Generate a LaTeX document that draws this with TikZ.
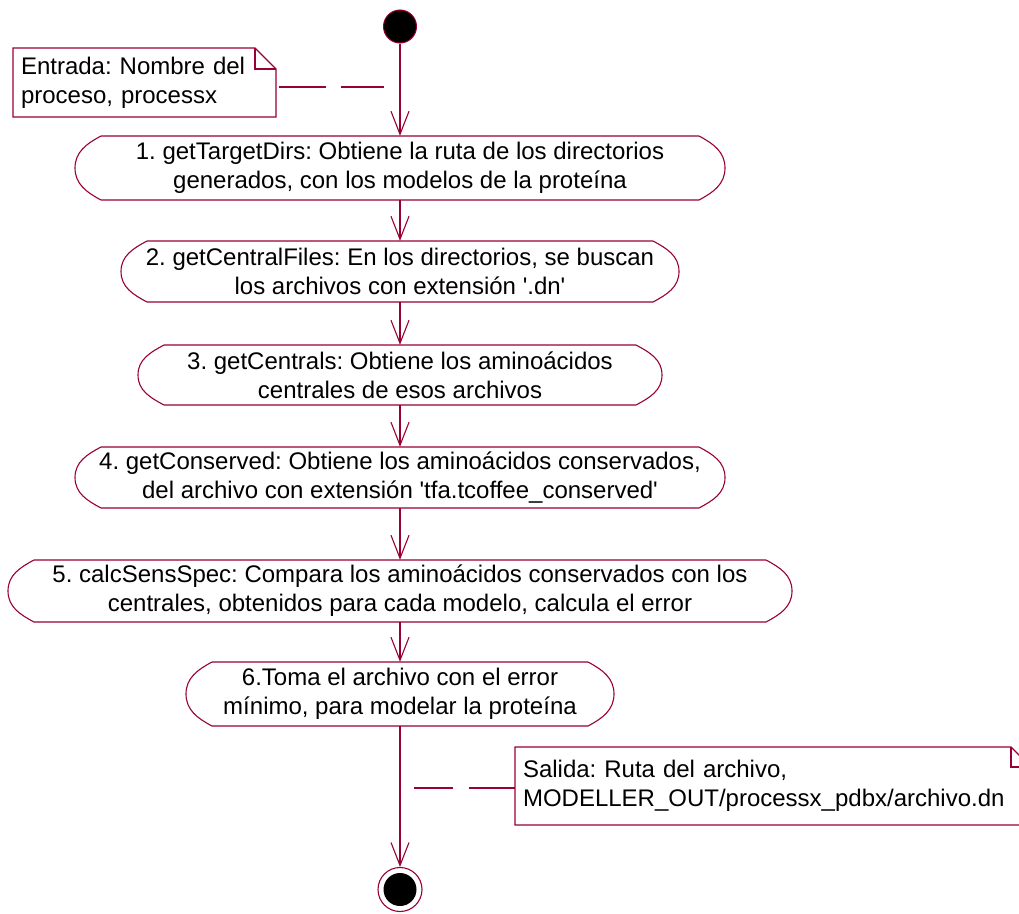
\documentclass[tikz,border=0pt]{standalone}
\usepackage{fontspec}
\setmainfont{Liberation Sans}
\usetikzlibrary{arrows.meta,calc}
\definecolor{rosered}{RGB}{153,0,51}
\newcommand{\diagfont}{\fontsize{24}{29}\selectfont\frenchspacing}
\tikzset{
  actnode/.style={draw=none, align=center, inner sep=0pt, font=\diagfont},
  actline/.style={draw=rosered, line width=1.1pt, fill=white, line join=miter},
  flow/.style={draw=rosered, line width=1.1pt, -{Straight Barb[length=23pt,width=18pt]}},
  notenode/.style={draw=none, align=left, inner xsep=8pt, inner ysep=0pt, font=\diagfont},
  noteline/.style={draw=rosered, line width=1.1pt, fill=white},
  notelink/.style={draw=rosered, line width=1.1pt, dash pattern=on 47pt off 15pt},
  startnode/.style={circle, draw=rosered, fill=black, line width=1pt, minimum size=33pt, inner sep=0pt},
  endnode/.style={circle, draw=rosered, fill=white, line width=1.1pt, minimum size=44pt, inner sep=0pt},
}
% name, xleft, xright, ytop, ybottom (image pixels, y downward), text
\newcommand{\actbox}[6]{%
  \pgfmathsetmacro{\bxW}{#3-#2}%
  \pgfmathsetmacro{\bxH}{#5-#4}%
  \pgfmathsetmacro{\bxX}{(#2+#3)/2}%
  \pgfmathsetmacro{\bxY}{-(#4+#5)/2}%
  \draw[actline] ({#2+26},-#4) -- ({#3-26},-#4)
     to[out=-28,in=90] (#3,\bxY) to[out=-90,in=28] ({#3-26},-#5)
     -- ({#2+26},-#5)
     to[out=152,in=-90] (#2,\bxY) to[out=90,in=208] ({#2+26},-#4) -- cycle;
  \node[actnode, minimum width=\bxW pt, minimum height=\bxH pt] (#1) at (\bxX,\bxY) {#6};
}
\begin{document}
\begin{tikzpicture}[x=1pt,y=1pt]
\useasboundingbox (0,0) rectangle (1019,-913);
\clip (0,0) rectangle (1019,-913);

% start
\node[startnode] (start) at (400,-26.5) {};

% note 1
\draw[noteline] (13,-48) -- (255,-48) -- (276,-69) -- (276,-117) -- (13,-117) -- cycle;
\draw[noteline, fill=none] (255,-48) -- (255,-69) -- (276,-69);
\node[notenode, text width=247pt, minimum height=69pt] (n1) at (144.5,-82.5)
  {Entrada: Nombre del\\proceso, processx};

% activity boxes
\actbox{b1}{75}{725}{136}{200}{1. getTargetDirs: Obtiene la ruta de los directorios\\generados, con los modelos de la prote\'{\i}na}
\actbox{b2}{121}{679}{241}{302}{2. getCentralFiles: En los directorios, se buscan\\los archivos con extensi\'on \textquotesingle.dn\textquotesingle}
\actbox{b3}{138}{662}{345}{405}{3. getCentrals: Obtiene los amino\'acidos\\centrales de esos archivos}
\actbox{b4}{75}{725}{447}{508}{4. getConserved: Obtiene los amino\'acidos conservados,\\del archivo con extensi\'on \textquotesingle tfa.tcoffee\_conserved\textquotesingle}
\actbox{b5}{8}{792}{560}{622}{5. calcSensSpec: Compara los amino\'acidos conservados con los\\centrales, obtenidos para cada modelo, calcula el error}
\actbox{b6}{186}{614}{662}{726}{6.Toma el archivo con el error\\m\'{\i}nimo, para modelar la prote\'{\i}na}

% end
\node[endnode] (end) at (400,-889.5) {};
\fill[black] (end.center) circle (16.5pt);

% note 2
\draw[noteline] (515,-747) -- (1011,-747) -- (1031,-767) -- (1031,-825) -- (515,-825) -- cycle;
\draw[noteline, fill=none] (1011,-747) -- (1011,-767) -- (1031,-767);
\node[notenode, text width=500pt, minimum height=78pt] (n2) at (773,-786)
  {Salida: Ruta del archivo,\\MODELLER\_OUT/processx\_pdbx/archivo.dn};

% flows
\draw[flow] (start) -- (b1);
\draw[flow] (b1) -- (b2);
\draw[flow] (b2) -- (b3);
\draw[flow] (b3) -- (b4);
\draw[flow] (b4) -- (b5);
\draw[flow] (b5) -- (b6);
\draw[flow] (b6) -- (end);

% note links
\coordinate (c1) at (384,-87);
\draw[notelink] ([xshift=3pt]c1 -| n1.east) -- (c1);
\coordinate (c2) at (414,-788);
\draw[notelink, dash pattern=on 46pt off 16pt] (c2 -| n2.west) -- (c2);
\end{tikzpicture}
\end{document}
